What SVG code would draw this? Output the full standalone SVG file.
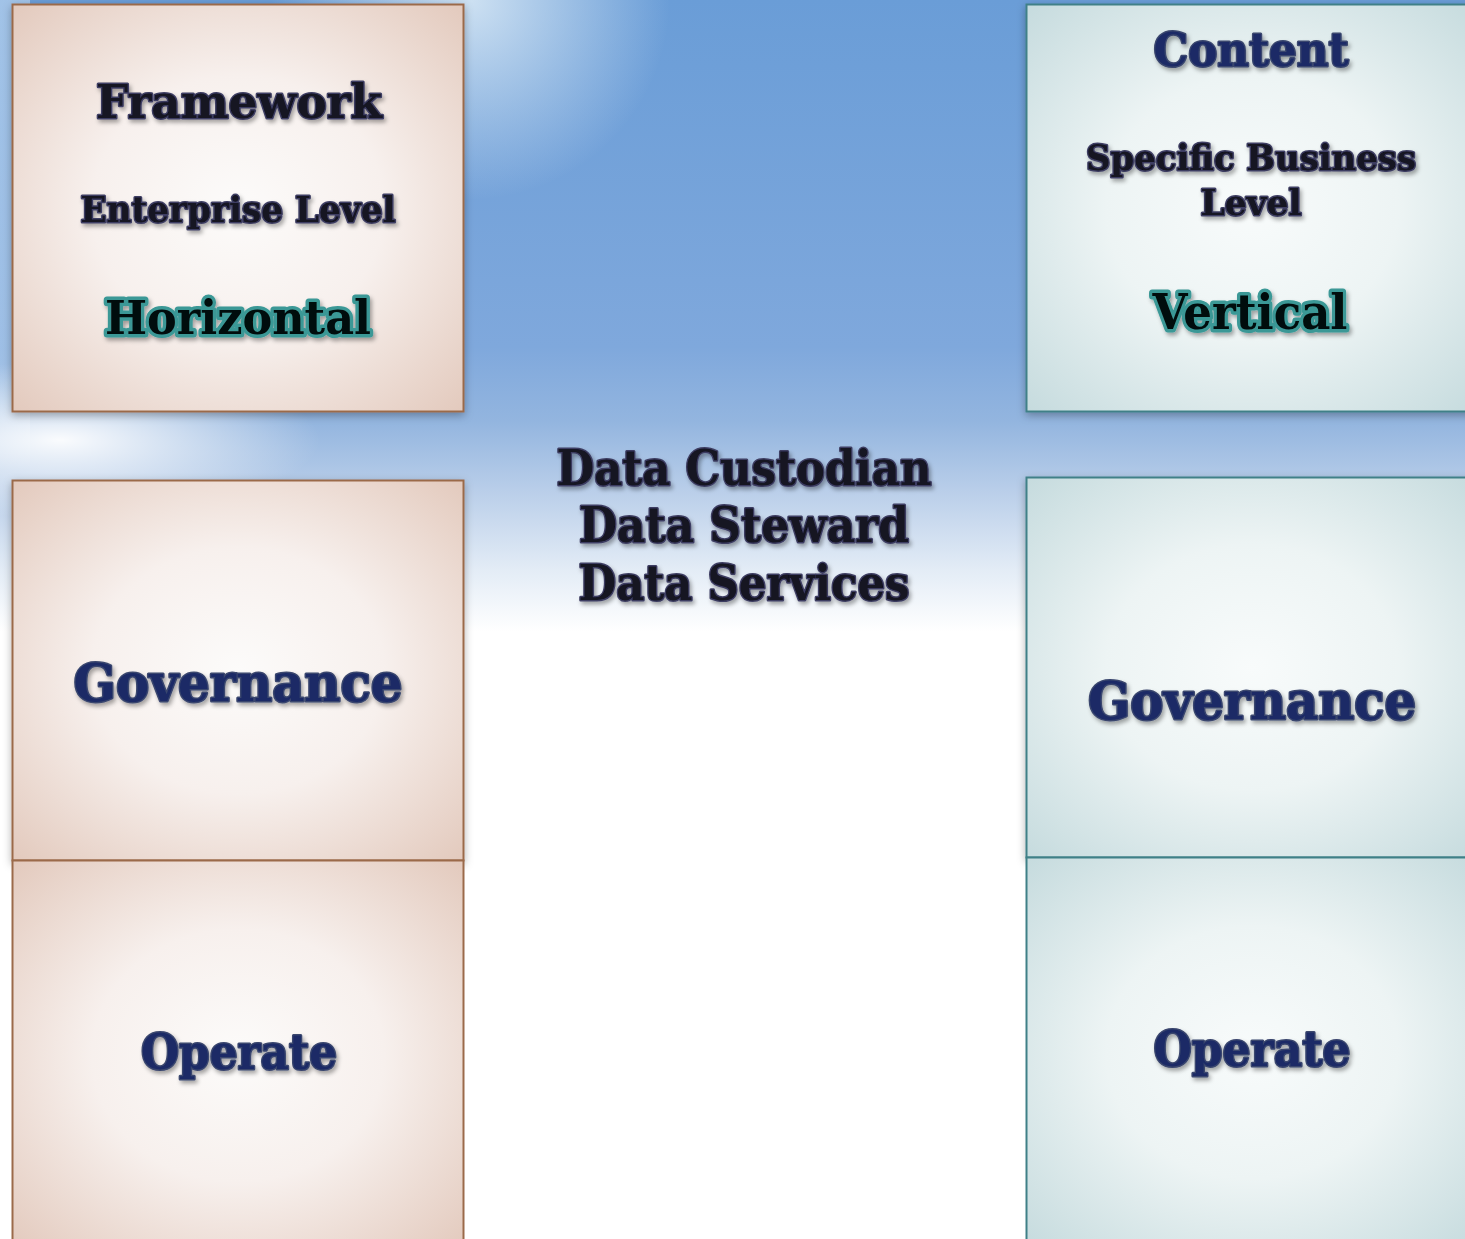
<svg xmlns="http://www.w3.org/2000/svg" width="1465" height="1239" viewBox="0 0 1465 1239">
<defs>
<linearGradient id="sky" x1="0" y1="0" x2="0" y2="1239" gradientUnits="userSpaceOnUse">
<stop offset="0" stop-color="#6a9dd7"/>
<stop offset="0.28" stop-color="#7fa8dc"/>
<stop offset="0.34" stop-color="#93b5df"/>
<stop offset="0.40" stop-color="#bcd0ea"/>
<stop offset="0.46" stop-color="#e3ecf6"/>
<stop offset="0.51" stop-color="#ffffff"/>
<stop offset="1" stop-color="#ffffff"/>
</linearGradient>
<linearGradient id="leftedge" x1="0" y1="0" x2="0" y2="1" >
<stop offset="0" stop-color="#b9d3ee" stop-opacity="0.7"/>
<stop offset="0.85" stop-color="#b9d3ee" stop-opacity="0.5"/>
<stop offset="1" stop-color="#ffffff" stop-opacity="0"/>
</linearGradient>
<radialGradient id="glow1" cx="470" cy="0" r="200" gradientUnits="userSpaceOnUse">
<stop offset="0" stop-color="#d8e8f5" stop-opacity="0.9"/>
<stop offset="1" stop-color="#d8e8f5" stop-opacity="0"/>
</radialGradient>
<radialGradient id="glow2" cx="60" cy="440" r="260" gradientTransform="translate(60 440) scale(1 0.3) translate(-60 -440)" gradientUnits="userSpaceOnUse">
<stop offset="0" stop-color="#ffffff" stop-opacity="0.95"/>
<stop offset="1" stop-color="#ffffff" stop-opacity="0"/>
</radialGradient>
<radialGradient id="peach" cx="0.5" cy="0.5" r="0.72">
<stop offset="0" stop-color="#fcfbfa"/>
<stop offset="0.45" stop-color="#f7f0ed"/>
<stop offset="1" stop-color="#e2c8bb"/>
</radialGradient>
<radialGradient id="teal" cx="0.5" cy="0.5" r="0.72">
<stop offset="0" stop-color="#f8fbfb"/>
<stop offset="0.45" stop-color="#edf4f4"/>
<stop offset="1" stop-color="#c4dadd"/>
</radialGradient>
<filter id="bshadow" x="-10%" y="-10%" width="120%" height="120%">
<feDropShadow dx="0" dy="3" stdDeviation="4" flood-color="#000000" flood-opacity="0.3"/>
</filter>
<filter id="tshadow" x="-10%" y="-20%" width="120%" height="150%">
<feDropShadow dx="2" dy="3" stdDeviation="2" flood-color="#000000" flood-opacity="0.35"/>
</filter>
</defs>
<style>
.t { font-family: "DejaVu Serif", "Liberation Serif", serif; font-weight: bold; text-anchor: middle; paint-order: stroke; stroke-linejoin: round; filter: url(#tshadow); }
.dark { fill: #121222; stroke: #3e3e62; stroke-width: 3; }
.navy { fill: #1c2b66; stroke: #3a466e; stroke-width: 3; }
.tealtxt { fill: #050808; stroke: #3a9896; stroke-width: 7; }
.pbox { fill: url(#peach); stroke: #9b6a4a; stroke-width: 2; }
.tbox { fill: url(#teal); stroke: #3f8087; stroke-width: 2; }
</style>
<rect x="0" y="0" width="1465" height="1239" fill="url(#sky)"/>
<rect x="0" y="0" width="1465" height="400" fill="url(#glow1)"/>
<rect x="0" y="0" width="30" height="470" fill="url(#leftedge)"/>
<rect x="0" y="300" width="600" height="300" fill="url(#glow2)"/>

<g id="framework">
<rect class="pbox" x="12.5" y="4.5" width="451" height="407" filter="url(#bshadow)"/>
<text class="t dark" x="239" y="118" font-size="47" textLength="286" lengthAdjust="spacingAndGlyphs">Framework</text>
<text class="t dark" x="238" y="222" font-size="35" textLength="315" lengthAdjust="spacingAndGlyphs">Enterprise Level</text>
<text class="t tealtxt" x="238" y="334" font-size="46" textLength="266" lengthAdjust="spacingAndGlyphs">Horizontal</text>
</g>

<g id="content">
<rect class="tbox" x="1026.5" y="4.5" width="451" height="407" filter="url(#bshadow)"/>
<text class="t navy" x="1251" y="66" font-size="47" textLength="195" lengthAdjust="spacingAndGlyphs">Content</text>
<text class="t dark" x="1251" y="170" font-size="36" textLength="330" lengthAdjust="spacingAndGlyphs">Specific Business</text>
<text class="t dark" x="1251" y="215" font-size="36" textLength="101" lengthAdjust="spacingAndGlyphs">Level</text>
<text class="t tealtxt" x="1250" y="329" font-size="49" textLength="195" lengthAdjust="spacingAndGlyphs">Vertical</text>
</g>

<g id="roles">
<text class="t dark" x="744" y="485" font-size="48" textLength="375" lengthAdjust="spacingAndGlyphs">Data Custodian</text>
<text class="t dark" x="744" y="542" font-size="48" textLength="330" lengthAdjust="spacingAndGlyphs">Data Steward</text>
<text class="t dark" x="744" y="600" font-size="48" textLength="331" lengthAdjust="spacingAndGlyphs">Data Services</text>
</g>

<g id="gov-left">
<rect class="pbox" x="12.5" y="480.5" width="451" height="380" filter="url(#bshadow)"/>
<text class="t navy" x="238" y="701" font-size="52" textLength="329" lengthAdjust="spacingAndGlyphs">Governance</text>
</g>
<g id="op-left">
<rect class="pbox" x="12.5" y="860.5" width="451" height="390"/>
<text class="t navy" x="239" y="1069" font-size="48" textLength="196" lengthAdjust="spacingAndGlyphs">Operate</text>
</g>

<g id="gov-right">
<rect class="tbox" x="1026.5" y="477.5" width="451" height="380" filter="url(#bshadow)"/>
<text class="t navy" x="1252" y="719" font-size="52" textLength="328" lengthAdjust="spacingAndGlyphs">Governance</text>
</g>
<g id="op-right">
<rect class="tbox" x="1026.5" y="857.5" width="451" height="390"/>
<text class="t navy" x="1252" y="1066" font-size="48" textLength="197" lengthAdjust="spacingAndGlyphs">Operate</text>
</g>
<g id="connectors"></g>
</svg>
